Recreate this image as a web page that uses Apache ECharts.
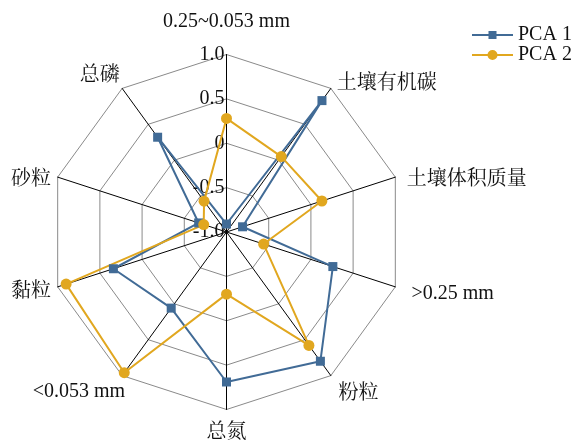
<!DOCTYPE html>
<html><head><meta charset="utf-8">
<script src="https://cdn.jsdelivr.net/npm/echarts@6/dist/echarts.min.js"></script>
<style>html,body{margin:0;padding:0;background:#fff}#c{width:581px;height:440px}</style>
</head><body><div id="c"></div>
<script>
// Indicators listed clockwise from the top
const indicatorNames = ['0.25~0.053 mm','土壤有机碳','土壤体积质量','>0.25 mm','粉粒','总氮','<0.053 mm','黏粒','砂粒','总磷'];
const seriesNames = ['PCA 1','PCA 2'];
const pca1 = [-0.91, 0.83, -0.81, 0.26, 0.80, 0.69, 0.06, 0.34, -0.67, 0.32];
const pca2 = [0.28, 0.05, 0.13, -0.56, 0.58, -0.30, 0.96, 0.90, -0.73, -0.57];
const axisMin = -1, axisMax = 1;
const tickLabels = ['-1.0', '-0.5', '0', '0.5', '1.0'];

const FONT = '"Liberation Serif","Times New Roman","Noto Serif CJK SC","Noto Sans CJK SC",serif';
const C1 = '#416b96', C2 = '#e1a71f';
const nameGaps = [23, 10, 12, 17, 13, 13, 12, 7, 7, 11];
const namePads = [[0,0,0,0],[0,0,0,0],[0,0,0,0],[0,0,0,0],[0,0,0,0],[0,0,0,0],[0,-10,0,0],[0,0,0,0],[0,0,0,0],[0,-4,0,0]];
// vertical nudge of each name (positive = down), done through alignment + lineHeight
const nameShift = [0, 3, 6, 1.5, 8, 0, 6, 3, 5, -4];

// ECharts radar runs counter-clockwise: reorder so indicators appear clockwise
const n = indicatorNames.length;
const order = indicatorNames.map((_, k) => (n - k) % n);
const reord = arr => order.map(i => arr[i]);

const indicator = order.map(i => {
  const ts = { padding: namePads[i] };
  if (nameShift[i] > 0) { ts.verticalAlign = 'top'; ts.lineHeight = 2 * nameShift[i]; }
  else if (nameShift[i] < 0) { ts.verticalAlign = 'bottom'; ts.lineHeight = -2 * nameShift[i]; }
  const o = { name: indicatorNames[i], min: axisMin, max: axisMax, nameGap: nameGaps[i], nameTextStyle: ts };
  if (i === 0) o.axisLabel = { show: true };
  return o;
});

const chart = echarts.init(document.getElementById('c'), null, { renderer: 'canvas' });
chart.setOption({
  animation: false,
  backgroundColor: '#fff',
  textStyle: { fontFamily: FONT },
  legend: {
    orient: 'vertical', left: 467, top: 20, itemWidth: 41, itemHeight: 10, itemGap: 0,
    textStyle: { fontFamily: FONT, fontSize: 20, color: '#111' },
    data: [
      { name: seriesNames[0], icon: 'path://M0,4.1h41v1.8h-41z M16.5,1h8v8h-8z' },
      { name: seriesNames[1], icon: 'path://M0,4.1h41v1.8h-41z M25.5,5a5,5 0 1,1 -10,0a5,5 0 1,1 10,0z' }
    ]
  },
  radar: {
    center: [226.5, 232], radius: 177.5, startAngle: 90, shape: 'polygon', splitNumber: 4,
    axisName: { color: '#111', fontFamily: FONT, fontSize: 20 },
    axisLine: { lineStyle: { color: '#000', width: 1 } },
    axisTick: { show: false },
    splitLine: { lineStyle: { color: '#8a8a8a', width: 1 } },
    splitArea: { show: false },
    axisLabel: { show: false, color: '#111', fontFamily: FONT, fontSize: 20, margin: 2,
      formatter: v => tickLabels[Math.round((v - axisMin) / 0.5)] },
    indicator: indicator
  },
  series: [{
    type: 'radar',
    data: [
      { name: seriesNames[0], value: reord(pca1), symbol: 'rect', symbolSize: 9,
        itemStyle: { color: C1 }, lineStyle: { color: C1, width: 2 } },
      { name: seriesNames[1], value: reord(pca2), symbol: 'circle', symbolSize: 11,
        itemStyle: { color: C2 }, lineStyle: { color: C2, width: 2 } }
    ]
  }]
});
</script></body></html>
